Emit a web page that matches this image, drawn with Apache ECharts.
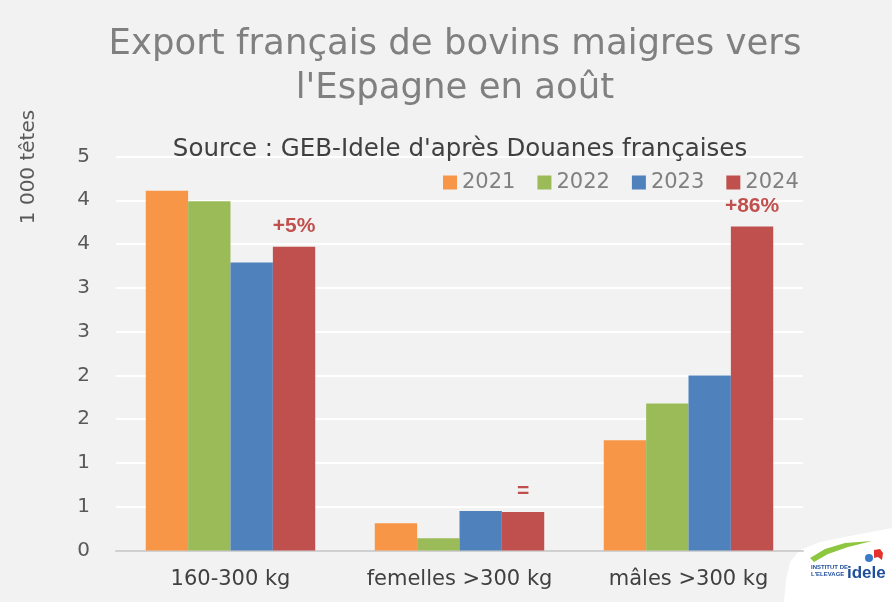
<!DOCTYPE html>
<html>
<head>
<meta charset="utf-8">
<script src="https://cdn.jsdelivr.net/npm/echarts@6/dist/echarts.min.js"></script>
<style>
html,body{margin:0;padding:0;background:#F2F2F2;}
#chart{width:892px;height:602px;}
</style>
</head>
<body>
<div id="chart"></div>
<script>
const categories = ['160-300 kg', 'femelles >300 kg', 'mâles >300 kg'];
const years = ['2021', '2022', '2023', '2024'];
const v2021 = [4.11, 0.31, 1.26];
const v2022 = [3.99, 0.14, 1.68];
const v2023 = [3.29, 0.45, 2.00];
const v2024 = [3.47, 0.44, 3.70];
const annotations2024 = ['+5%', '=', '+86%'];
const yTickLabels = ['0', '1', '1', '2', '2', '3', '3', '4', '4', '5'];
const colors = ['#F79646', '#9BBB59', '#4F81BD', '#C0504D'];

const FONT = 'DejaVu Sans';
const seriesValues = [v2021, v2022, v2023, v2024];

const chart = echarts.init(document.getElementById('chart'));
const series = years.map((y, i) => {
  const s = {
    name: y,
    type: 'bar',
    data: seriesValues[i],
    itemStyle: { color: colors[i] },
    barGap: '0%',
    barCategoryGap: '26%',
    animation: false
  };
  if (i === 3) {
    s.label = {
      show: true,
      position: 'top',
      distance: 10,
      formatter: p => annotations2024[p.dataIndex],
      color: '#C0504D',
      fontWeight: 'bold',
      fontFamily: 'Liberation Sans',
      fontSize: 21
    };
  }
  return s;
});

chart.setOption({
  backgroundColor: '#F2F2F2',
  animation: false,
  color: colors,
  title: [
    {
      text: "Export français de bovins maigres vers\nl'Espagne en août",
      left: 450,
      top: 18,
      textAlign: 'center',
      textStyle: { fontFamily: FONT, fontSize: 35.5, fontWeight: 'normal', color: '#808080', lineHeight: 44 }
    },
    {
      text: "Source : GEB-Idele d'après Douanes françaises",
      left: 455,
      top: 131,
      textAlign: 'center',
      textStyle: { fontFamily: FONT, fontSize: 24.5, fontWeight: 'normal', color: '#404040', lineHeight: 28 }
    }
  ],
  legend: {
    data: years,
    left: 438,
    top: 167,
    itemWidth: 14,
    itemHeight: 14,
    itemGap: 22,
    icon: 'rect',
    textStyle: { fontFamily: FONT, fontSize: 21, color: '#808080' }
  },
  grid: { left: 116, right: 89, top: 156.5, bottom: 51.5, containLabel: false },
  xAxis: {
    type: 'category',
    data: categories,
    axisLine: { lineStyle: { color: '#D0D0D0', width: 2 } },
    axisTick: { show: false },
    axisLabel: { interval: 0, hideOverlap: false, fontFamily: FONT, fontSize: 21, color: '#404040', margin: 19 }
  },
  yAxis: {
    type: 'value',
    min: 0,
    max: 4.5,
    interval: 0.5,
    axisLine: { show: false },
    axisTick: { show: false },
    splitLine: { lineStyle: { color: '#FFFFFF', width: 2 } },
    axisLabel: {
      fontFamily: FONT, fontSize: 20, color: '#595959', margin: 26,
      formatter: v => yTickLabels[Math.round(v / 0.5)]
    }
  },
  series: series,
  graphic: [
    {
      type: 'text', x: 29, y: 167, rotation: Math.PI / 2,
      style: { text: '1 000 têtes', font: '20px "DejaVu Sans"', fill: '#595959', textAlign: 'center', textVerticalAlign: 'middle' }
    },
    {
      type: 'polygon',
      shape: { points: [[784, 602], [786, 580], [790, 562], [800, 550], [820, 542], [850, 536], [892, 528], [892, 602]] },
      style: { fill: '#FFFFFF' }
    },
    {
      type: 'polygon',
      shape: { points: [[810, 558], [825, 549], [845, 543], [872, 541], [848, 547], [828, 554], [814, 562]] },
      style: { fill: '#8DC63F' }
    },
    {
      type: 'circle', shape: { cx: 869, cy: 558, r: 4 }, style: { fill: '#3A7BC8' }
    },
    {
      type: 'polygon',
      shape: { points: [[874, 550], [880, 549], [883, 553], [882, 560], [878, 557], [874, 558]] },
      style: { fill: '#E5322D' }
    },
    {
      type: 'text', x: 811, y: 571,
      style: { text: 'INSTITUT DE\nL\'ELEVAGE', font: 'bold 6px "Liberation Sans"', fill: '#1F4E9A', textVerticalAlign: 'middle', lineHeight: 7 }
    },
    {
      type: 'text', x: 847, y: 573,
      style: { text: 'idele', font: 'bold 17px "Liberation Sans"', fill: '#1F4E9A', textVerticalAlign: 'middle' }
    }
  ]
});
</script>
</body>
</html>
